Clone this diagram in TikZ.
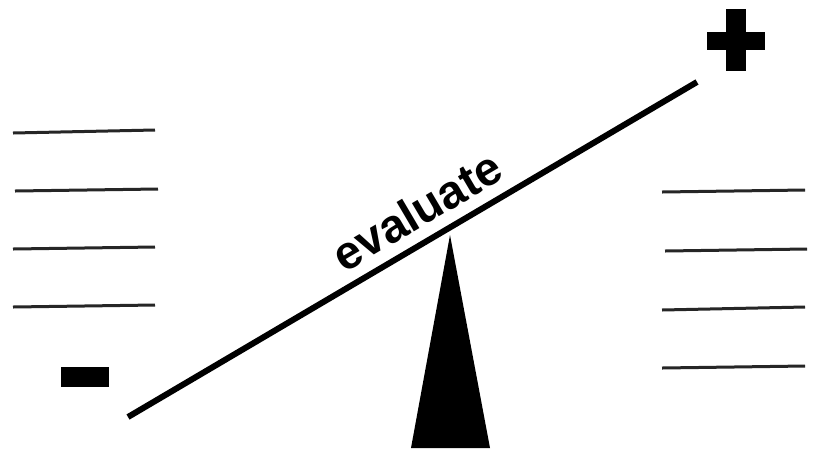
\documentclass[tikz,border=0pt]{standalone}
\usepackage{fontspec}
\setmainfont{Liberation Sans}
\begin{document}
\begin{tikzpicture}[x=1pt,y=-1pt,
  rule/.style={line width=3pt,black!85},
  beam/.style={line width=6pt,black},
  lbl/.style={font=\fontsize{47}{50}\selectfont\bfseries,inner sep=0pt}]
\useasboundingbox[fill=white] (0,0) rectangle (818,448);
% left rules
\draw[rule] (13,133) -- (155,130);
\draw[rule] (15,191) -- (158,189);
\draw[rule] (13,249) -- (155,247);
\draw[rule] (13,307) -- (155,305);
% right rules
\draw[rule] (662,192) -- (805,190);
\draw[rule] (665,251) -- (807,249);
\draw[rule] (662,310) -- (805,307);
\draw[rule] (662,368) -- (805,366);
% minus
\fill (61,367) rectangle (109,387);
% plus
\fill (726,9) rectangle (746,71);
\fill (707,32) rectangle (765,50);
% fulcrum
\coordinate (apex) at (450,235);
\fill (apex) -- (490,448) -- (411,448) -- cycle;
% beam
\coordinate (bl) at (128,417);
\coordinate (br) at (697,82);
\draw[beam] (bl) -- (br) node[lbl,pos=0.535,sloped,anchor=south,yshift=11pt] (ev) {evaluate};
\end{tikzpicture}
\end{document}
